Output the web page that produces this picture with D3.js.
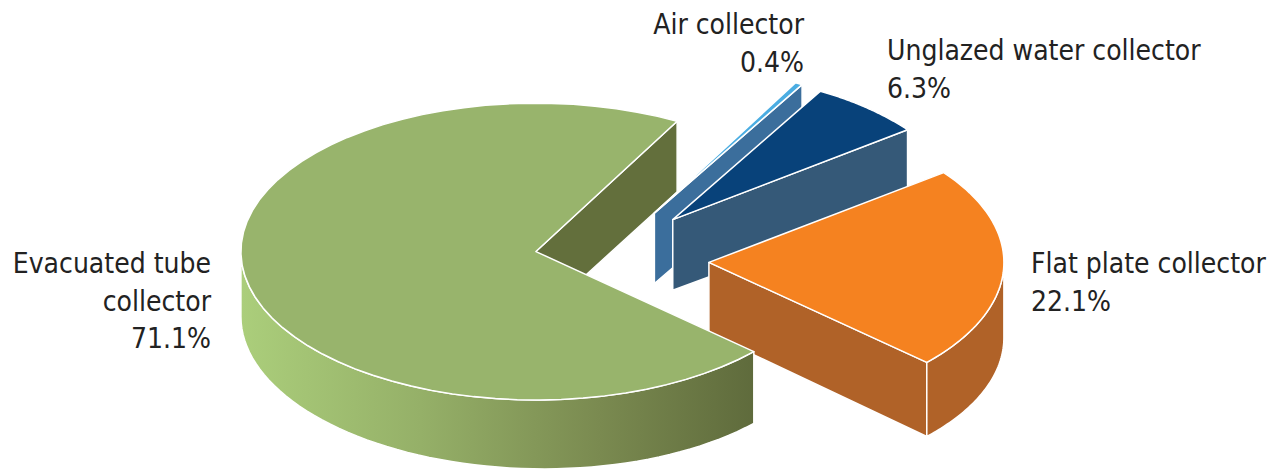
<!DOCTYPE html>
<html>
<head>
<meta charset="utf-8">
<script src="https://cdn.jsdelivr.net/npm/d3@7"></script>
<style>
  html, body { margin: 0; padding: 0; background: #fff; }
  svg { display: block; }
  .label { font-family: "DejaVu Sans Condensed", "DejaVu Sans", sans-serif; font-stretch: condensed; font-size: 28px; fill: #222; }
</style>
</head>
<body>
<script>
// chart data
const categories = ['Air collector', 'Unglazed water collector', 'Flat plate collector', 'Evacuated tube collector'];
const shares = [0.4, 6.3, 22.1, 71.1];
const percentLabels = ['0.4%', '6.3%', '22.1%', '71.1%'];
const labelLines = [['Air collector'], ['Unglazed water collector'], ['Flat plate collector'], ['Evacuated tube', 'collector']];

function drawPie() {
  const width = 1268, height = 471;
  const cx = 602, cy = 260, rx = 295, tilt = 0.503;
  const startDeg = 28.6;

  const topColors = ['#4badE2', '#08427a', '#f58220', '#98b46c'];
  const sideColors = ['#3b6e9c', '#355978', '#b06228', 'url(#greenSide)'];
  const cutColors = ['#3b6e9c', '#355978', '#b06228', '#636f3c'];
  const explode = [107, 107, 107, 67];
  const lift = [0, 0, 0, -14]; // perspective makes the big slice sit a bit higher

  // label anchors (x, first baseline, anchor)
  const labelPos = [
    { x: 804, y: 34, anchor: 'end' },
    { x: 887, y: 60, anchor: 'start' },
    { x: 1031, y: 273, anchor: 'start' },
    { x: 211, y: 273, anchor: 'end' },
  ];
  const lineGap = 37.5;

  const svg = d3.select('body')
    .append('svg')
    .attr('width', width)
    .attr('height', height);

  const grad = svg.append('defs').append('linearGradient')
    .attr('id', 'greenSide')
    .attr('x1', 0).attr('x2', 1).attr('y1', 0).attr('y2', 0);
  [['0%', '#abce7b'], ['35%', '#95b068'], ['70%', '#7a8a50'], ['100%', '#5f6b3c']]
    .forEach(s => grad.append('stop').attr('offset', s[0]).attr('stop-color', s[1]));

  const start = startDeg * Math.PI / 180;
  const pie = d3.pie()
    .sort(null)
    .value(d => d)
    .startAngle(start)
    .endAngle(start + 2 * Math.PI);
  const arcs = pie(shares);

  const depth = d3.scaleLinear().domain([240, 924]).range([65, 74]);

  arcs.forEach((d, i) => {
    const mid = (d.startAngle + d.endAngle) / 2;
    d.off = [explode[i] * Math.sin(mid), -explode[i] * Math.cos(mid) * tilt + lift[i]];
    d.i = i;
  });

  const pt = (d, a, r) => [cx + d.off[0] + r * Math.sin(a), cy + d.off[1] - r * Math.cos(a) * tilt];
  const down = p => [p[0], p[1] + depth(p[0])];
  const rim = (d, a0, a1) => d3.range(0, 61).map(j => pt(d, a0 + (a1 - a0) * j / 60, rx));
  const line = d3.line().curve(d3.curveLinearClosed);

  const cutFaces = [], sideFaces = [], topFaces = [];

  arcs.forEach(d => {
    const apex = pt(d, 0, 0);
    // radial cut faces that look toward the viewer
    [[d.startAngle, -Math.sin(d.startAngle)], [d.endAngle, Math.sin(d.endAngle)]].forEach(([a, facing]) => {
      if (facing > 0) {
        const p = pt(d, a, rx);
        cutFaces.push({ d, pts: [apex, p, down(p), down(apex)], key: (apex[0] + p[0]) / 2 });
      }
    });
    // front part of the curved outer wall
    const lo = Math.max(d.startAngle, Math.PI / 2);
    const hi = Math.min(d.endAngle, 3 * Math.PI / 2);
    if (hi > lo) {
      const r = rim(d, lo, hi);
      sideFaces.push({ d, pts: r.concat(r.slice().reverse().map(down)) });
    }
    topFaces.push({ d, pts: [apex].concat(rim(d, d.startAngle, d.endAngle)) });
  });

  cutFaces.sort((a, b) => a.key - b.key);

  const g = svg.append('g');
  const faceStyle = sel => sel
    .attr('stroke', '#fff')
    .attr('stroke-width', 1.5)
    .attr('stroke-linejoin', 'round');

  g.selectAll('path.cut').data(cutFaces).enter().append('path')
    .attr('class', 'cut')
    .attr('d', f => line(f.pts))
    .attr('fill', f => cutColors[f.d.i])
    .call(faceStyle);

  g.selectAll('path.side').data(sideFaces).enter().append('path')
    .attr('class', 'side')
    .attr('d', f => line(f.pts))
    .attr('fill', f => sideColors[f.d.i])
    .call(faceStyle);

  g.selectAll('path.top').data(topFaces).enter().append('path')
    .attr('class', 'top')
    .attr('d', f => line(f.pts))
    .attr('fill', f => topColors[f.d.i])
    .call(faceStyle);

  // labels
  const labels = svg.selectAll('text.label')
    .data(categories)
    .enter()
    .append('text')
    .attr('class', 'label')
    .attr('text-anchor', (c, i) => labelPos[i].anchor);

  labels.each(function (c, i) {
    const t = d3.select(this);
    labelLines[i].concat([percentLabels[i]]).forEach((s, j) => {
      t.append('tspan')
        .attr('x', labelPos[i].x)
        .attr('y', labelPos[i].y + j * lineGap)
        .text(s);
    });
  });
}

drawPie();
</script>
</body>
</html>
